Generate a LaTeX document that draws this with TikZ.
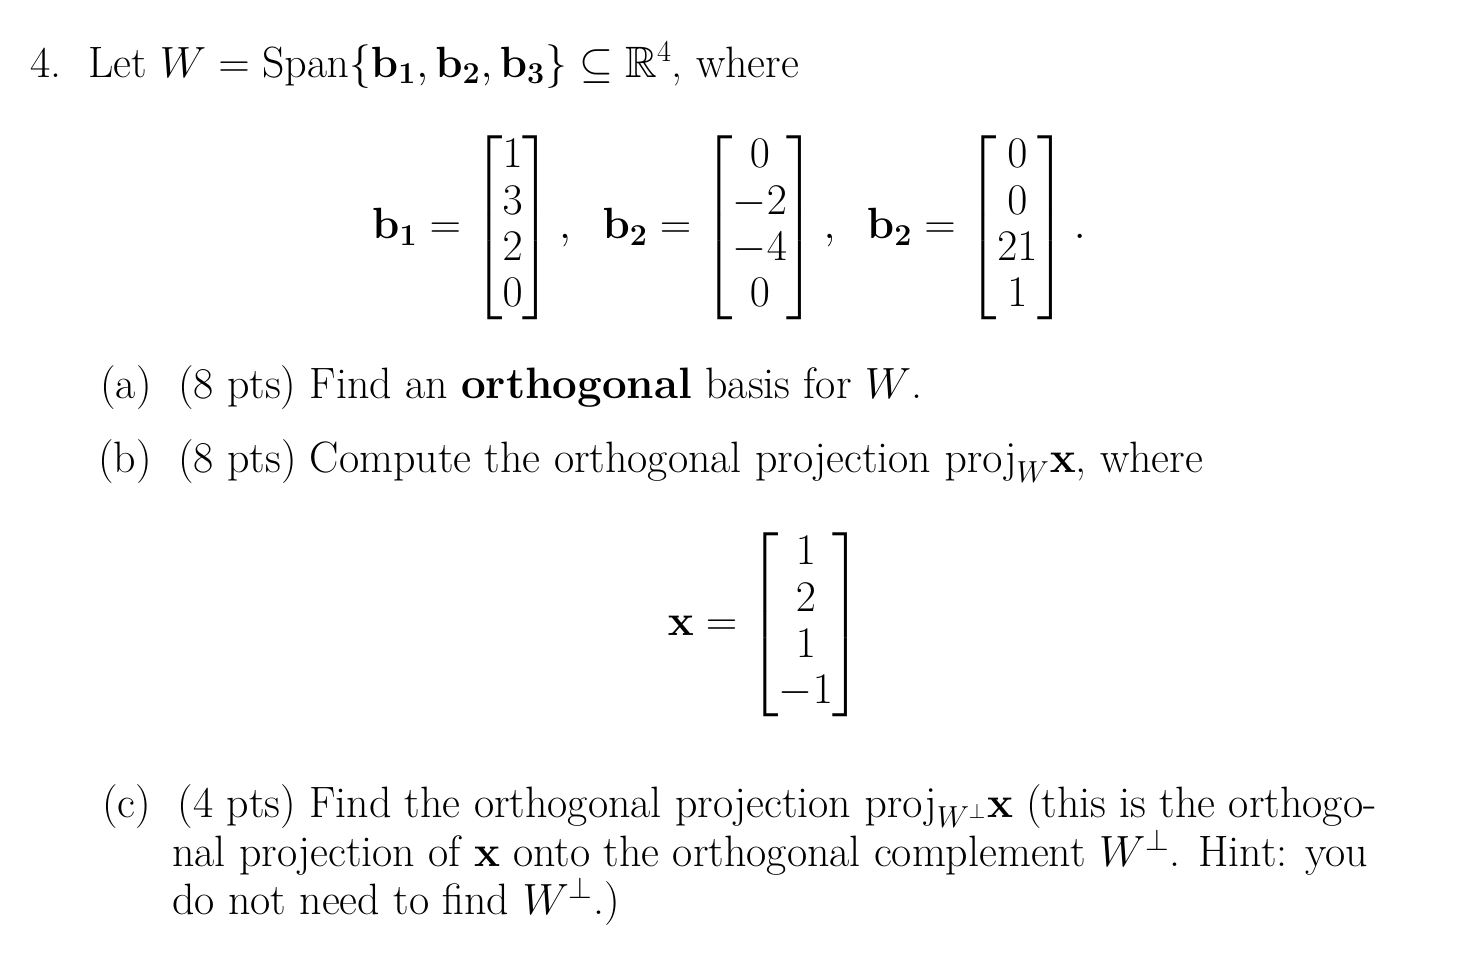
\documentclass[tikz,border=0pt]{standalone}
\usepackage{amsmath,amssymb}
\begin{document}
\begin{tikzpicture}[x=0.02cm,y=-0.02cm,
  txt/.style={anchor=base west,inner sep=0pt,font=\fontsize{25}{30}\selectfont}]
\useasboundingbox (0,0) rectangle (1462,970);
\node[txt] (l1) at (30,77) {4.\ \ Let $W=\mathrm{Span}\{\mathbf{b_1},\mathbf{b_2},\mathbf{b_3}\}\subseteq\mathbb{R}^4$, where};
\node[txt,anchor=center] (m) at (729,228) {\renewcommand{\arraystretch}{0.88}$\mathbf{b_1}=\begin{bmatrix}1\\3\\2\\0\end{bmatrix},\;\; \mathbf{b_2}=\begin{bmatrix}0\\-2\\-4\\0\end{bmatrix},\;\; \mathbf{b_2}=\begin{bmatrix}0\\0\\21\\1\end{bmatrix}.$};
\node[txt] (a) at (100,398) {(a)\ \ (8 pts) Find an \textbf{orthogonal} basis for $W$.};
\node[txt] (b) at (98,472) {(b)\ \ (8 pts) Compute the orthogonal projection $\mathrm{proj}_W\mathbf{x}$, where};
\node[txt,anchor=center] (x) at (765,625) {\renewcommand{\arraystretch}{0.88}$\mathbf{x}=\begin{bmatrix}1\\2\\1\\-1\end{bmatrix}$};
\node[txt] (c1) at (102,817) {(c)\ \ (4 pts) Find the orthogonal projection $\mathrm{proj}_{W^\perp}\mathbf{x}$ (this is the orthogo-};
\node[txt] (c2) at (172,866) {nal projection of $\mathbf{x}$ onto the orthogonal complement $W^\perp$. Hint: you};
\node[txt] (c3) at (172,914) {do not need to find $W^\perp$.)};
\end{tikzpicture}
\end{document}
